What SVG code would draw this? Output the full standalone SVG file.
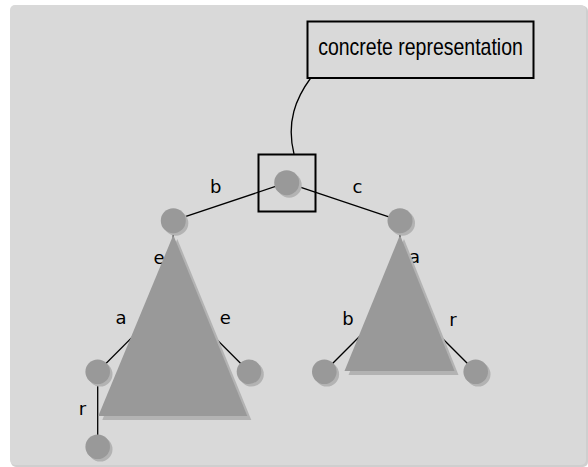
<svg xmlns="http://www.w3.org/2000/svg" width="588" height="467" viewBox="0 0 588 467">
  <style>
    .bg { fill: #d9d9d9; }
    .bgshadow { fill: #cfcfcf; }
    .node { fill: #999999; }
    .shadow { fill: #b3b3b3; }
    .edge { stroke: #000000; stroke-width: 1.3; fill: none; }
    .frame { fill: none; stroke: #000000; stroke-width: 2; }
    .lbl { font-family: "DejaVu Sans", sans-serif; font-size: 18px; fill: #000000; text-anchor: middle; }
    .note { font-family: "Liberation Sans", Arial, sans-serif; font-size: 19.5px; fill: #000000; text-anchor: middle; }
  </style>
  <rect x="0" y="0" width="588" height="467" fill="#ffffff"/>
  <rect class="bgshadow" x="11" y="6" width="577" height="461" rx="5"/>
  <rect class="bg" x="10" y="5" width="576" height="460" rx="5"/>

  <g id="connectors">
    <path class="edge" d="M310.7,78 C296,98 286,122 294,154"/>
    <line class="edge" x1="286.7" y1="182.7" x2="173.3" y2="220.7"/>
    <line class="edge" x1="286.7" y1="182.7" x2="400" y2="220.7"/>
    <line class="edge" x1="173.3" y1="220.7" x2="173.3" y2="240"/>
    <line class="edge" x1="400" y1="220.7" x2="400" y2="240"/>
    <line class="edge" x1="97.7" y1="371.7" x2="140" y2="329.4"/>
    <line class="edge" x1="249" y1="371.7" x2="207" y2="329.7"/>
    <line class="edge" x1="97.7" y1="371.7" x2="97.7" y2="446.7"/>
    <line class="edge" x1="324.3" y1="371.7" x2="364" y2="332"/>
    <line class="edge" x1="475.7" y1="371.7" x2="436" y2="332"/>
    <text class="lbl" x="215.7" y="193">b</text>
    <text class="lbl" x="357.5" y="193">c</text>
    <text class="lbl" x="159" y="264">e</text>
    <text class="lbl" x="121" y="324">a</text>
    <text class="lbl" x="225.3" y="324">e</text>
    <text class="lbl" x="82.5" y="415">r</text>
    <text class="lbl" x="414.5" y="263">a</text>
    <text class="lbl" x="348" y="325">b</text>
    <text class="lbl" x="453" y="326">r</text>
  </g>

  <g id="note">
    <rect class="frame" x="307.5" y="21.5" width="226" height="56.5" fill="none"/>
    <text class="note" transform="translate(420.5,55) scale(1,1.2)" x="0" y="0">concrete representation</text>
  </g>

  <g id="subtree-left">
    <polygon class="shadow" points="177.3,239 251.3,420 102.3,420"/>
    <polygon class="node" points="173.3,235 247.3,416 98.3,416"/>
  </g>
  <g id="subtree-right">
    <polygon class="shadow" points="404,239 458.5,375 348.5,375"/>
    <polygon class="node" points="400,235 454.5,371 344.5,371"/>
  </g>

  <g id="root">
    <circle class="shadow" cx="289.2" cy="185.2" r="12.5"/>
    <circle class="node" cx="286.7" cy="182.7" r="12.5"/>
    <rect class="frame" x="258.5" y="154.5" width="57" height="57"/>
  </g>
  <g id="node-b">
    <circle class="shadow" cx="175.8" cy="223.2" r="12.5"/>
    <circle class="node" cx="173.3" cy="220.7" r="12.5"/>
  </g>
  <g id="node-c">
    <circle class="shadow" cx="402.5" cy="223.2" r="12.5"/>
    <circle class="node" cx="400" cy="220.7" r="12.5"/>
  </g>
  <g id="node-ba">
    <circle class="shadow" cx="100.2" cy="374.2" r="12.3"/>
    <circle class="node" cx="97.7" cy="371.7" r="12.3"/>
  </g>
  <g id="node-be">
    <circle class="shadow" cx="251.5" cy="374.2" r="12.3"/>
    <circle class="node" cx="249" cy="371.7" r="12.3"/>
  </g>
  <g id="node-bar">
    <circle class="shadow" cx="100.2" cy="449.2" r="12.3"/>
    <circle class="node" cx="97.7" cy="446.7" r="12.3"/>
  </g>
  <g id="node-cb">
    <circle class="shadow" cx="326.8" cy="374.2" r="12.3"/>
    <circle class="node" cx="324.3" cy="371.7" r="12.3"/>
  </g>
  <g id="node-cr">
    <circle class="shadow" cx="478.2" cy="374.2" r="12.3"/>
    <circle class="node" cx="475.7" cy="371.7" r="12.3"/>
  </g>
</svg>
